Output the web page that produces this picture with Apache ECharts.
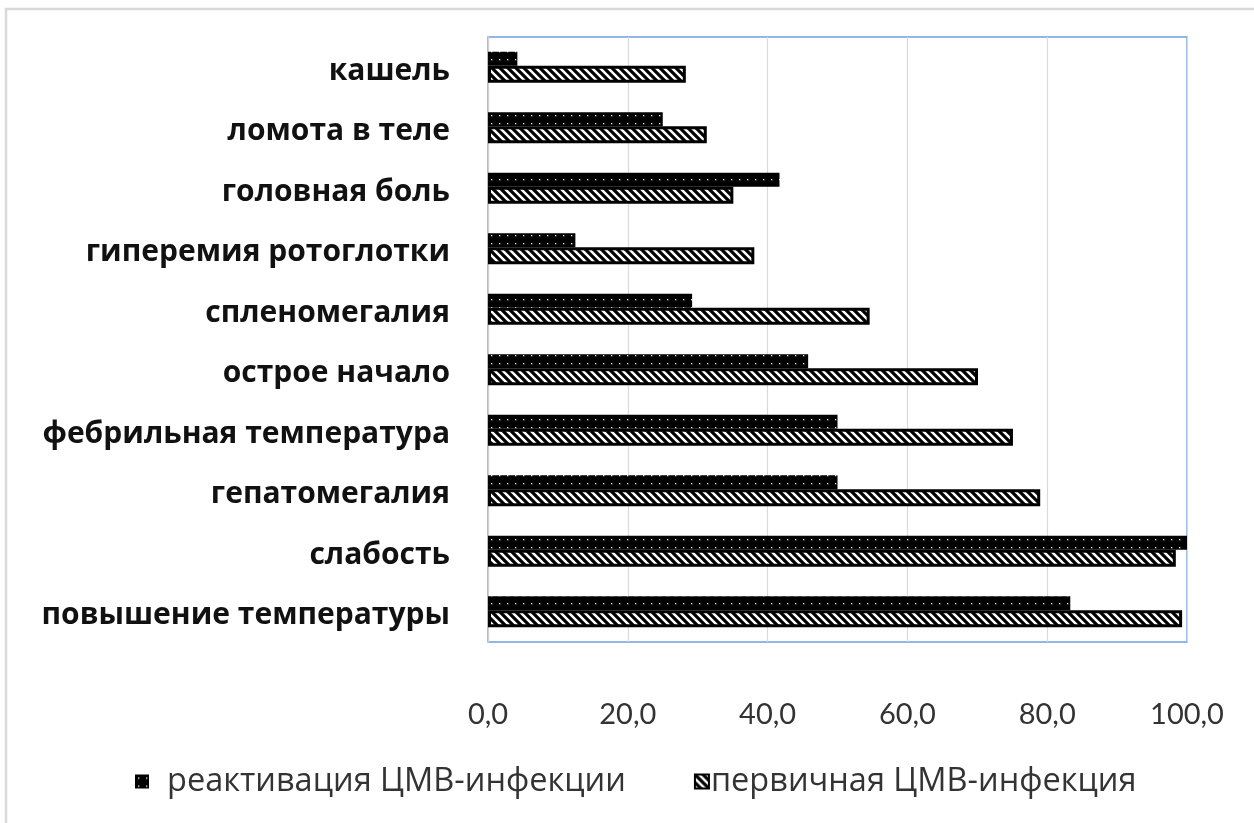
<!DOCTYPE html>
<html>
<head>
<meta charset="utf-8">
<script src="https://cdn.jsdelivr.net/npm/echarts@6/dist/echarts.min.js"></script>
<style>
  html, body { margin: 0; padding: 0; background: #fff; }
  #chart { width: 1254px; height: 823px; }
</style>
</head>
<body>
<div id="chart"></div>
<script>
// Symptoms, listed top to bottom
const categories = [
  'кашель', 'ломота в теле', 'головная боль', 'гиперемия ротоглотки',
  'спленомегалия', 'острое начало', 'фебрильная температура',
  'гепатомегалия', 'слабость', 'повышение температуры'
];
const seriesNames = ['реактивация ЦМВ-инфекции', 'первичная ЦМВ-инфекция'];
// Share of patients, %
const reactivation = [4.2, 25.0, 41.7, 12.5, 29.2, 45.8, 50.0, 50.0, 100.0, 83.3];
const primary = [28.3, 31.3, 35.1, 38.1, 54.6, 70.1, 75.1, 79.0, 98.4, 99.3];
const tickLabels = ['0,0', '20,0', '40,0', '60,0', '80,0', '100,0'];

// Black fill with sparse white dots
function dotPattern() {
  const c = document.createElement('canvas');
  c.width = 8; c.height = 8;
  const g = c.getContext('2d');
  g.fillStyle = '#000'; g.fillRect(0, 0, 8, 8);
  g.fillStyle = '#fff'; g.fillRect(3, 3, 1.3, 1.3);
  return c;
}
// White/black diagonal hatching (top-left to bottom-right)
function hatchPattern() {
  const s = 8;
  const c = document.createElement('canvas');
  c.width = s; c.height = s;
  const g = c.getContext('2d');
  g.fillStyle = '#fff'; g.fillRect(0, 0, s, s);
  g.strokeStyle = '#000'; g.lineWidth = 3.2;
  g.beginPath();
  g.moveTo(-s, 0); g.lineTo(s, 2 * s);
  g.moveTo(0, 0); g.lineTo(s, s);
  g.moveTo(0, -s); g.lineTo(2 * s, s);
  g.stroke();
  return c;
}

const chart = echarts.init(document.getElementById('chart'), null, { renderer: 'canvas' });
const labelFont = '"Open Sans", Lato, sans-serif';
const tickFont = 'Lato, "Open Sans", sans-serif';

chart.setOption({
  animation: false,
  backgroundColor: '#fff',
  graphic: [{
    type: 'rect',
    shape: { x: 6, y: 9, width: 1400, height: 1000 },
    style: { fill: 'none', stroke: '#d9d9d9', lineWidth: 2.5 },
    silent: true
  }],
  grid: {
    left: 488, top: 37, width: 699, height: 605,
    show: true, borderColor: '#6fa0dc', borderWidth: 1.4, backgroundColor: 'transparent'
  },
  legend: {
    data: [
      { name: seriesNames[0], textStyle: { padding: [0, 0, 0, 13] } },
      { name: seriesNames[1], textStyle: { padding: [0, 0, 0, -3] } }
    ],
    left: 130, top: 760,
    icon: 'rect',
    itemWidth: 14, itemHeight: 14, itemGap: 68,
    textStyle: { fontFamily: labelFont, fontSize: 32.5, color: '#333' }
  },
  xAxis: {
    type: 'value', min: 0, max: 100, interval: 20,
    axisLine: { show: false }, axisTick: { show: false },
    splitLine: { lineStyle: { color: '#d9d9d9', width: 1.2 } },
    axisLabel: {
      margin: 58, fontFamily: tickFont, fontSize: 29, color: '#333',
      formatter: v => tickLabels[Math.round(v / 20)]
    }
  },
  yAxis: {
    type: 'category', data: categories, inverse: true,
    axisLine: { show: true, lineStyle: { color: '#d0d0d0', width: 1.2 } },
    axisTick: { show: false },
    axisLabel: {
      margin: 38,
      formatter: v => '{n|' + v + '}',
      rich: {
        n: {
          fontFamily: labelFont, fontSize: 30, fontWeight: 'bold', color: '#111',
          padding: [8, 0, 0, 0]
        }
      }
    }
  },
  series: [
    {
      name: seriesNames[0], type: 'bar', data: reactivation,
      barWidth: 14, barGap: '0%',
      itemStyle: { color: { image: dotPattern(), repeat: 'repeat' } }
    },
    {
      name: seriesNames[1], type: 'bar', data: primary,
      barWidth: 17, barGap: '0%',
      itemStyle: { color: { image: hatchPattern(), repeat: 'repeat' }, borderColor: '#000', borderWidth: 3 }
    }
  ]
});
</script>
</body>
</html>
